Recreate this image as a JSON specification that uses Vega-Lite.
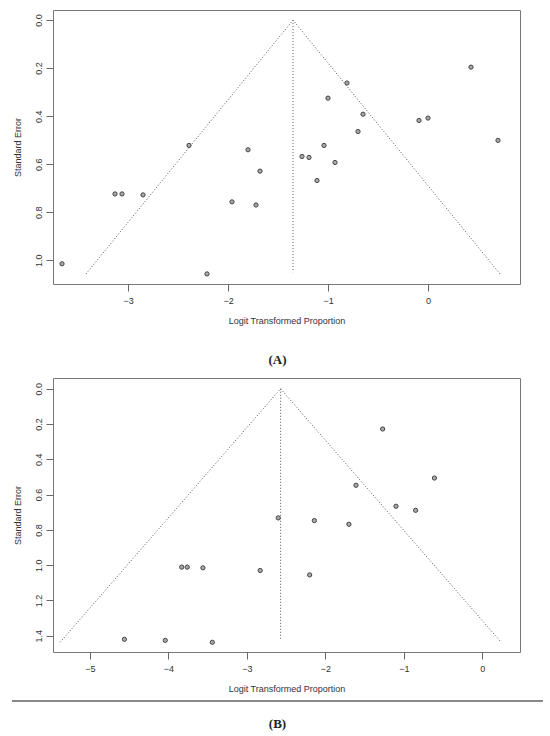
{
  "$schema": "https://vega.github.io/schema/vega-lite/v6.json",
  "background": "white",
  "padding": {"left": 11, "top": 9, "right": 8, "bottom": 2},
  "config": {
    "view": {"stroke": "#777777", "strokeWidth": 1},
    "axis": {
      "domain": false, "grid": false, "labelOverlap": false,
      "tickColor": "#666666", "tickSize": 7,
      "labelFont": "Liberation Sans", "labelFontSize": 9, "labelColor": "#333333",
      "titleFont": "Liberation Sans", "titleFontSize": 9, "titleFontWeight": "normal", "titleColor": "#333333"
    },
    "axisX": {"labelPadding": 5, "titlePadding": 11, "format": "d"},
    "axisY": {"labelAngle": 270, "labelAlign": "center", "labelBaseline": "bottom", "labelPadding": 3, "titlePadding": 12, "format": ".1f"},
    "title": {"font": "Liberation Serif", "fontSize": 13, "fontWeight": "bold", "color": "#222222", "orient": "bottom", "anchor": "middle"}
  },
  "datasets": {
    "pointsA": [
      {"x": -3.66, "se": 1.015}, {"x": -3.13, "se": 0.724}, {"x": -3.06, "se": 0.724},
      {"x": -2.85, "se": 0.728}, {"x": -2.39, "se": 0.522}, {"x": -2.21, "se": 1.057},
      {"x": -1.96, "se": 0.757}, {"x": -1.80, "se": 0.540}, {"x": -1.68, "se": 0.629},
      {"x": -1.72, "se": 0.770}, {"x": -1.26, "se": 0.568}, {"x": -1.19, "se": 0.572},
      {"x": -1.11, "se": 0.668}, {"x": -1.04, "se": 0.522}, {"x": -1.00, "se": 0.325},
      {"x": -0.93, "se": 0.593}, {"x": -0.81, "se": 0.262}, {"x": -0.70, "se": 0.464},
      {"x": -0.65, "se": 0.392}, {"x": -0.09, "se": 0.418}, {"x": 0.00, "se": 0.408},
      {"x": 0.43, "se": 0.196}, {"x": 0.70, "se": 0.501}
    ],
    "funnelA": [
      {"x": -3.42, "se": 1.057, "o": 1}, {"x": -1.35, "se": 0, "o": 2}, {"x": 0.72, "se": 1.057, "o": 3}
    ],
    "centerA": [{"x": -1.35, "se": 0, "se2": 1.05}],
    "pointsB": [
      {"x": -4.56, "se": 1.420}, {"x": -4.04, "se": 1.426}, {"x": -3.44, "se": 1.437},
      {"x": -3.83, "se": 1.011}, {"x": -3.76, "se": 1.011}, {"x": -3.56, "se": 1.015},
      {"x": -2.83, "se": 1.030}, {"x": -2.60, "se": 0.732}, {"x": -2.14, "se": 0.747},
      {"x": -2.20, "se": 1.055}, {"x": -1.70, "se": 0.768}, {"x": -1.61, "se": 0.547},
      {"x": -1.27, "se": 0.228}, {"x": -1.10, "se": 0.666}, {"x": -0.85, "se": 0.689},
      {"x": -0.61, "se": 0.506}
    ],
    "funnelB": [
      {"x": -5.38, "se": 1.437, "o": 1}, {"x": -2.57, "se": 0, "o": 2}, {"x": 0.24, "se": 1.437, "o": 3}
    ],
    "centerB": [{"x": -2.57, "se": 0, "se2": 1.425}],
    "sep": [{"x1": -41, "x2": 490, "v": 1}]
  },
  "columns": 1,
  "align": "none",
  "spacing": 6,
  "concat": [
    {
      "width": 467,
      "height": 274,
      "title": {"text": ["(A)", ""], "offset": 29, "lineHeight": 3, "dx": -9},
      "layer": [
        {
          "data": {"name": "funnelA"},
          "mark": {"type": "line", "color": "#555555", "strokeWidth": 1, "strokeDash": [1, 2]},
          "encoding": {
            "x": {"field": "x", "type": "quantitative", "title": "Logit Transformed Proportion",
                  "scale": {"domain": [-3.75, 0.92], "nice": false, "zero": false},
                  "axis": {"values": [-3, -2, -1, 0], "tickCount": 10}},
            "y": {"field": "se", "type": "quantitative", "title": "Standard Error",
                  "scale": {"domain": [-0.042, 1.099], "nice": false, "zero": false, "reverse": true},
                  "axis": {"values": [0, 0.2, 0.4, 0.6, 0.8, 1.0], "tickCount": 10}},
            "order": {"field": "o"}
          }
        },
        {
          "data": {"name": "centerA"},
          "mark": {"type": "rule", "color": "#555555", "strokeWidth": 1, "strokeDash": [1, 2]},
          "encoding": {
            "x": {"field": "x", "type": "quantitative"},
            "y": {"field": "se", "type": "quantitative"},
            "y2": {"field": "se2"}
          }
        },
        {
          "data": {"name": "pointsA"},
          "mark": {"type": "circle", "size": 18, "fill": "#aaaaaa", "stroke": "#444444", "strokeWidth": 1, "opacity": 1},
          "encoding": {
            "x": {"field": "x", "type": "quantitative"},
            "y": {"field": "se", "type": "quantitative"}
          }
        }
      ]
    },
    {
      "width": 467,
      "height": 274,
      "layer": [
        {
          "data": {"name": "funnelB"},
          "mark": {"type": "line", "color": "#555555", "strokeWidth": 1, "strokeDash": [1, 2]},
          "encoding": {
            "x": {"field": "x", "type": "quantitative", "title": "Logit Transformed Proportion",
                  "scale": {"domain": [-5.47, 0.48], "nice": false, "zero": false},
                  "axis": {"values": [-5, -4, -3, -2, -1, 0], "tickCount": 10}},
            "y": {"field": "se", "type": "quantitative", "title": "Standard Error",
                  "scale": {"domain": [-0.061, 1.492], "nice": false, "zero": false, "reverse": true},
                  "axis": {"values": [0, 0.2, 0.4, 0.6, 0.8, 1.0, 1.2, 1.4], "tickCount": 10}},
            "order": {"field": "o"}
          }
        },
        {
          "data": {"name": "centerB"},
          "mark": {"type": "rule", "color": "#555555", "strokeWidth": 1, "strokeDash": [1, 2]},
          "encoding": {
            "x": {"field": "x", "type": "quantitative"},
            "y": {"field": "se", "type": "quantitative"},
            "y2": {"field": "se2"}
          }
        },
        {
          "data": {"name": "pointsB"},
          "mark": {"type": "circle", "size": 18, "fill": "#aaaaaa", "stroke": "#444444", "strokeWidth": 1, "opacity": 1},
          "encoding": {
            "x": {"field": "x", "type": "quantitative"},
            "y": {"field": "se", "type": "quantitative"}
          }
        }
      ]
    },
    {
      "width": 490,
      "height": 1,
      "view": {"stroke": null},
      "title": {"text": "(B)", "offset": 16, "frame": "bounds"},
      "data": {"name": "sep"},
      "mark": {"type": "rule", "color": "#111111", "strokeWidth": 1},
      "encoding": {
        "x": {"field": "x1", "type": "quantitative", "axis": null, "scale": {"domain": [0, 490]}},
        "x2": {"field": "x2"},
        "y": {"field": "v", "type": "quantitative", "axis": null, "scale": {"domain": [0, 1]}}
      }
    }
  ]
}
